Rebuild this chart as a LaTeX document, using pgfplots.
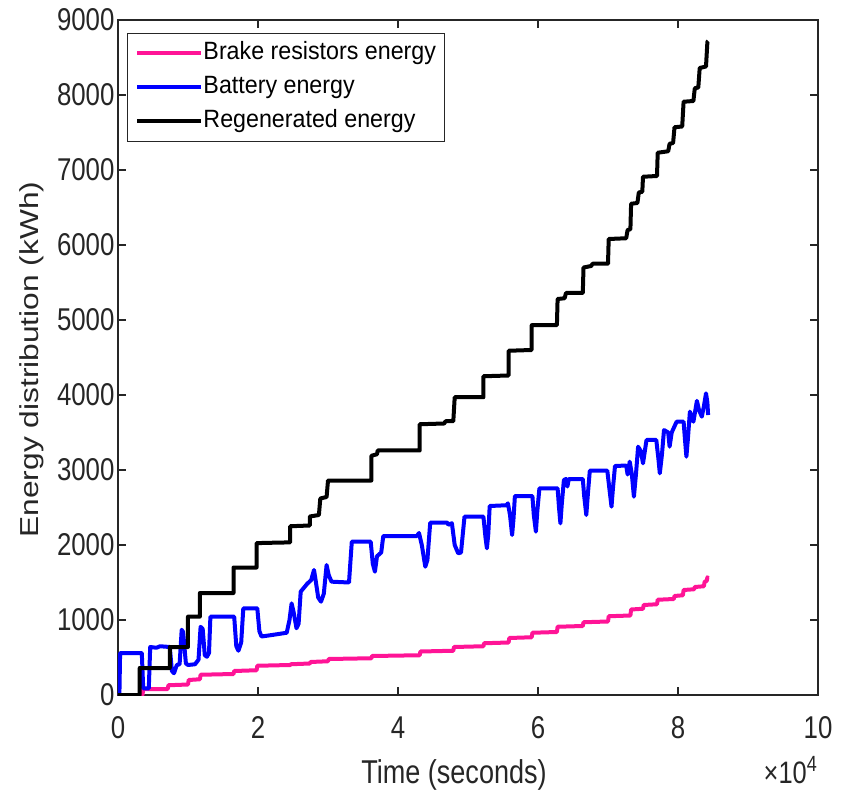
\documentclass[border=0pt]{standalone}
\usepackage{fontspec}
\setmainfont{Liberation Sans}
\newfontfamily\sqfont[FakeStretch=0.82]{Liberation Sans}
\newfontfamily\ylabfont[FakeStretch=1.22]{Liberation Sans}
\newfontfamily\legfont[FakeStretch=0.93]{Liberation Sans}
\usepackage{pgfplots}
\pgfplotsset{compat=1.18}
\definecolor{axgray}{RGB}{38,38,38}
\definecolor{pinkc}{RGB}{255,20,150}
\definecolor{bluec}{RGB}{0,0,255}
\begin{document}
\begin{tikzpicture}
\begin{axis}[
  width=700pt, height=675pt, scale only axis,
  xmin=0, xmax=10, ymin=0, ymax=9000,
  xtick={0,2,...,10}, ytick={0,1000,...,9000},
  scaled y ticks=false,
  /pgf/number format/assume math mode=true,
  /pgf/number format/1000 sep={},
  tick align=inside, major tick length=8pt,
  axis line style={color=axgray, line width=1.4pt},
  every tick/.style={color=axgray, line width=1.3pt},
  tick label style={font=\sqfont\fontsize{31.5}{36}\selectfont, color=axgray},
  xticklabel style={yshift=-18pt},
  legend style={at={(axis description cs:0,1)}, anchor=north west,
    xshift=9pt, yshift=-13pt, draw=axgray, line width=1pt, fill=white,
    font=\legfont\fontsize{25}{28}\selectfont,
    inner xsep=8pt, inner ysep=8.5pt, row sep=11pt, column sep=1pt,
    nodes={inner xsep=0pt, inner ysep=0pt, text height=18pt, text depth=5pt}},
  legend cell align=left,
  legend image code/.code={\draw[#1, line width=4pt] (0pt,0pt) -- (63pt,0pt);},
  every axis plot/.append style={line width=4pt, line join=round},
]
\addplot[color=pinkc] coordinates {
(0,0) (0.35,0) (0.36,80) (0.71,80) (0.72,130) (1.0,140) (1.01,200) (1.17,210) (1.18,270) (1.65,280) (1.66,320) (1.98,330) (1.99,390) (2.46,400) (2.47,410) (2.74,420) (2.75,440) (3.0,450) (3.01,480) (3.62,490) (3.63,520) (4.31,530) (4.32,580) (4.79,590) (4.8,640) (5.22,650) (5.23,690) (5.58,700) (5.59,760) (5.91,770) (5.92,830) (6.27,840) (6.28,910) (6.64,920) (6.65,970) (7.0,980) (7.01,1050) (7.32,1060) (7.33,1140) (7.5,1150) (7.51,1200) (7.7,1210) (7.71,1270) (7.94,1280) (7.95,1320) (8.07,1330) (8.08,1400) (8.23,1410) (8.24,1440) (8.37,1450) (8.38,1510) (8.41,1520) (8.42,1570) (8.43,1560)
};
\addlegendentry{Brake resistors energy}
\addplot[color=bluec] coordinates {
(0,0) (0.02,0) (0.03,560) (0.34,560) (0.36,90) (0.44,90) (0.46,640) (0.55,630) (0.60,650) (0.74,640) (0.77,320) (0.80,290) (0.84,400) (0.88,410) (0.91,870) (0.93,840) (0.97,420) (1.00,400) (1.10,410) (1.15,470) (1.18,910) (1.21,880) (1.24,530) (1.27,510) (1.30,560) (1.32,1044) (1.66,1044) (1.69,650) (1.72,590) (1.76,700) (1.79,1156) (1.99,1156) (2.02,850) (2.05,780) (2.20,800) (2.41,830) (2.45,1000) (2.48,1222) (2.51,1100) (2.55,890) (2.58,950) (2.61,1378) (2.70,1480) (2.76,1533) (2.80,1667) (2.82,1550) (2.86,1300) (2.90,1244) (2.94,1350) (2.98,1733) (3.01,1600) (3.05,1511) (3.30,1500) (3.34,2044) (3.61,2044) (3.64,1750) (3.67,1644) (3.70,1850) (3.76,1900) (3.79,2120) (4.27,2120) (4.30,2160) (4.34,2000) (4.39,1711) (4.42,1800) (4.46,2297) (4.70,2300) (4.72,2270) (4.77,2290) (4.81,2000) (4.86,1889) (4.90,1900) (4.95,2378) (5.22,2378) (5.25,2100) (5.27,1956) (5.29,2150) (5.31,2520) (5.55,2530) (5.57,2556) (5.60,2400) (5.63,2133) (5.65,2350) (5.67,2653) (5.92,2653) (5.94,2400) (5.97,2178) (5.99,2450) (6.02,2756) (6.28,2756) (6.30,2500) (6.32,2289) (6.34,2550) (6.37,2867) (6.40,2880) (6.42,2780) (6.44,2880) (6.64,2880) (6.66,2650) (6.69,2400) (6.71,2650) (6.74,2991) (6.99,2991) (7.02,2750) (7.05,2511) (7.07,2750) (7.10,3053) (7.26,3060) (7.28,2940) (7.31,3111) (7.34,2950) (7.37,2644) (7.40,2950) (7.43,3311) (7.47,3250) (7.50,3089) (7.55,3400) (7.69,3400) (7.72,3150) (7.74,2956) (7.77,3200) (7.80,3533) (7.86,3500) (7.88,3311) (7.91,3500) (7.98,3644) (8.08,3644) (8.10,3400) (8.12,3178) (8.14,3400) (8.17,3778) (8.22,3644) (8.27,3922) (8.30,3800) (8.34,3711) (8.37,3850) (8.40,4022) (8.42,3900) (8.43,3733)
};
\addlegendentry{Battery energy}
\addplot[color=black] coordinates {
(0,0) (0.31,0) (0.31,360) (0.74,360) (0.74,640) (1.0,640) (1.0,1045) (1.17,1045) (1.17,1360) (1.65,1360) (1.65,1700) (1.98,1700) (1.98,2025) (2.2,2030) (2.46,2035) (2.46,2250) (2.74,2260) (2.74,2380) (2.87,2400) (2.89,2620) (2.98,2640) (3.0,2860) (3.62,2860) (3.62,3190) (3.7,3210) (3.71,3260) (4.31,3260) (4.31,3610) (4.66,3620) (4.68,3650) (4.79,3650) (4.81,3970) (5.22,3970) (5.22,4250) (5.58,4260) (5.58,4590) (5.91,4600) (5.91,4930) (6.27,4930) (6.28,5280) (6.38,5290) (6.4,5360) (6.64,5360) (6.65,5700) (6.76,5720) (6.78,5750) (7.0,5750) (7.01,6080) (7.26,6090) (7.28,6200) (7.32,6210) (7.33,6550) (7.42,6560) (7.44,6700) (7.49,6710) (7.5,6910) (7.7,6920) (7.71,7230) (7.86,7250) (7.88,7350) (7.93,7360) (7.95,7570) (8.06,7580) (8.08,7910) (8.22,7920) (8.24,8090) (8.29,8100) (8.31,8360) (8.4,8380) (8.42,8710) (8.43,8720)
};
\addlegendentry{Regenerated energy}
\end{axis}
\node[anchor=base, color=axgray, font=\sqfont\fontsize{33}{38}\selectfont] at ([xshift=-14pt,yshift=-88pt]current axis.south) {Time (seconds)};
\node[rotate=90, anchor=base, color=axgray, font=\ylabfont\fontsize{26}{30}\selectfont] at ([xshift=-79pt,yshift=-2pt]current axis.west) {Energy distribution (kWh)};
\node[anchor=base east, inner sep=0pt, color=axgray, font=\sqfont\fontsize{31}{36}\selectfont] at ([xshift=-1pt,yshift=-88pt]current axis.south east) {×10\raisebox{12pt}{\fontsize{22}{26}\selectfont 4}};
\pgfresetboundingbox
\path[use as bounding box] ([xshift=-118pt,yshift=-95pt]current axis.south west) rectangle ([xshift=25pt,yshift=20pt]current axis.north east);
\end{tikzpicture}
\end{document}
